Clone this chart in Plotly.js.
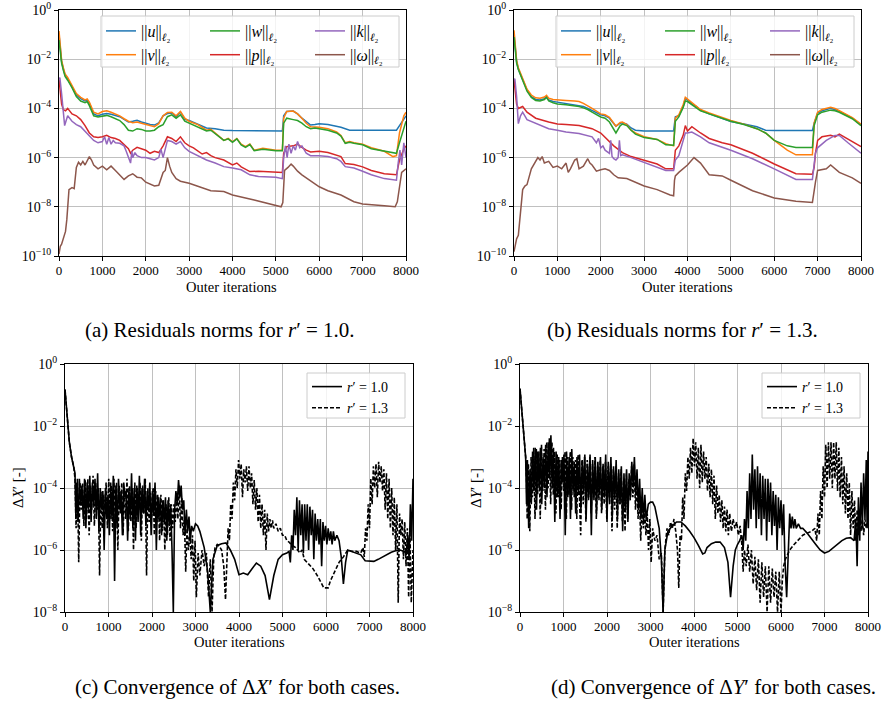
<!DOCTYPE html>
<html><head><meta charset="utf-8">
<script src="https://cdn.plot.ly/plotly-3.0.1.min.js"></script>
<style>html,body{margin:0;padding:0;background:#fff}#chart{width:882px;height:702px}</style>
</head><body><div id="chart"></div><script>
// ---------- tick labels ----------
const X_TICKS = [0,1000,2000,3000,4000,5000,6000,7000,8000];
const X_TICKTEXT = ['0','1000','2000','3000','4000','5000','6000','7000','8000'];
const Y_TICKS_TOP = [1e-10,1e-8,1e-6,1e-4,1e-2,1];
const Y_TICKTEXT_TOP = ['10<sup>−10</sup>','10<sup>−8</sup>','10<sup>−6</sup>','10<sup>−4</sup>','10<sup>−2</sup>','10<sup>0</sup>'];
const Y_TICKS_BOT = [1e-8,1e-6,1e-4,1e-2,1];
const Y_TICKTEXT_BOT = ['10<sup>−8</sup>','10<sup>−6</sup>','10<sup>−4</sup>','10<sup>−2</sup>','10<sup>0</sup>'];

const RES_NAMES = ['||<i>u</i>||<sub><i>ℓ</i>₂</sub>','||<i>v</i>||<sub><i>ℓ</i>₂</sub>','||<i>w</i>||<sub><i>ℓ</i>₂</sub>','||<i>p</i>||<sub><i>ℓ</i>₂</sub>','||<i>k</i>||<sub><i>ℓ</i>₂</sub>','||<i>ω</i>||<sub><i>ℓ</i>₂</sub>'];
const CASE_NAMES = ['<i>r</i>′ = 1.0','<i>r</i>′ = 1.3'];

// ---------- (a) residuals r'=1.0 ----------
const a_u_x = [0,30,60,100,140,200,300,400,500,600,650,700,800,900,1000,1100,1200,1300,1400,1500,1600,1700,1800,1900,2000,2100,2200,2300,2400,2500,2600,2700,2800,2900,3000,3200,3400,3600,3800,4000,4500,5000,5150,5180,5250,5400,5500,5600,5700,5800,5900,6000,6200,6400,6500,6700,7000,7500,7780,7850,7950,8000];
const a_u_y = [1e-1,2e-2,8e-3,4e-3,2.3e-3,1.6e-3,8e-4,3.5e-4,2.5e-4,2e-4,2.2e-4,1.6e-4,6e-5,5e-5,5.8e-5,6.2e-5,5.8e-5,5e-5,4.6e-5,3.6e-5,2.8e-5,3e-5,3.3e-5,2.8e-5,2.4e-5,2.2e-5,2.1e-5,2.6e-5,5e-5,6.2e-5,6.5e-5,4.6e-5,7.2e-5,3.6e-5,3.2e-5,2.3e-5,1.6e-5,1.5e-5,1.3e-5,1.25e-5,1.2e-5,1.2e-5,1.2e-5,5e-5,7.5e-5,7.8e-5,6e-5,4e-5,2.8e-5,2.1e-5,2.2e-5,2.4e-5,2.2e-5,1.9e-5,1.7e-5,1.3e-5,1.3e-5,1.3e-5,1.3e-5,2e-5,3.8e-5,5e-5];
const a_vw_x = [0,30,60,100,140,200,300,400,500,600,650,700,800,900,1000,1100,1200,1300,1400,1500,1600,1700,1800,1900,2000,2100,2200,2300,2400,2500,2600,2700,2800,2900,3000,3200,3400,3500,3600,3700,3800,3900,4000,4100,4200,4300,4400,4500,4700,5000,5150,5180,5250,5400,5500,5600,5700,5800,5900,6000,6200,6400,6500,6600,6700,6800,7000,7200,7500,7700,7780,7850,7950,8000];
const a_v_y = [1.4e-1,2.5e-2,9e-3,4.5e-3,2.5e-3,1.8e-3,9e-4,4e-4,2.8e-4,2.2e-4,2.4e-4,1.8e-4,7e-5,6e-5,7.5e-5,8e-5,7e-5,6e-5,5e-5,3.8e-5,3e-5,2.6e-5,2.8e-5,2.5e-5,2.2e-5,2e-5,1.8e-5,2.4e-5,5e-5,6.8e-5,7e-5,5e-5,7.5e-5,4e-5,3e-5,2.2e-5,1.3e-5,1.4e-5,1e-5,7e-6,5e-6,6e-6,4.4e-6,6e-6,3.5e-6,2.8e-6,3.6e-6,2e-6,2.4e-6,2e-6,2e-6,4e-5,7.5e-5,7.8e-5,6e-5,4e-5,2.5e-5,1.8e-5,1.8e-5,1.7e-5,1.5e-5,1.1e-5,8e-6,4e-6,4.5e-6,4e-6,3.5e-6,2.5e-6,1.8e-6,1.1e-6,1.2e-6,1e-5,5e-5,7e-5];
const a_w_y = [6e-2,1.5e-2,7e-3,3.5e-3,2e-3,1.4e-3,7e-4,3e-4,2e-4,1.7e-4,1.9e-4,1.3e-4,5e-5,4.5e-5,5e-5,5.2e-5,4.6e-5,3.8e-5,3.2e-5,2.2e-5,1.3e-5,1.2e-5,1.5e-5,1.4e-5,1.2e-5,1.2e-5,1.3e-5,1.8e-5,2.2e-5,4.6e-5,5.5e-5,4e-5,5.5e-5,3e-5,2.5e-5,1.8e-5,1.2e-5,1.3e-5,9.5e-6,6.5e-6,5e-6,5.8e-6,4.2e-6,5.8e-6,3.3e-6,2.6e-6,3.4e-6,1.9e-6,2.2e-6,1.9e-6,1.9e-6,2.5e-5,4e-5,3.5e-5,3.2e-5,2.5e-5,1.8e-5,1.5e-5,1.6e-5,1.5e-5,1.3e-5,1e-5,7.5e-6,3.8e-6,4.2e-6,3.8e-6,3.3e-6,2.3e-6,1.8e-6,1.5e-6,1.5e-6,4e-6,1.5e-5,3e-5];
const a_p_x = [0,30,60,100,150,200,300,400,500,600,700,800,900,1000,1100,1200,1300,1400,1500,1600,1650,1700,1800,1900,2000,2100,2200,2300,2400,2500,2600,2700,2800,2900,3000,3100,3200,3300,3400,3500,3600,3800,4000,4100,4200,4300,4400,4600,5000,5150,5180,5250,5400,5500,5600,5700,5800,6000,6200,6400,6500,6600,6800,7000,7200,7500,7780,7850,7950,8000];
const a_p_y = [1.5e-3,4e-4,1.5e-4,9e-5,8e-5,1e-4,6e-5,5e-5,3.5e-5,2e-5,1e-5,7e-6,6.5e-6,7e-6,8e-6,6.5e-6,6e-6,5e-6,3.5e-6,2.3e-6,1.5e-6,2e-6,2.6e-6,2.2e-6,2e-6,1.5e-6,1.8e-6,1.6e-6,3e-6,7e-6,6e-6,4.5e-6,7e-6,4e-6,3e-6,2.5e-6,1.8e-6,1.4e-6,1.6e-6,1.2e-6,1e-6,8e-7,5e-7,6e-7,4.2e-7,3.5e-7,2.7e-7,2.8e-7,2.6e-7,2.5e-7,1.5e-6,2.8e-6,3e-6,3.5e-6,2.6e-6,2e-6,1.7e-6,1.8e-6,1.6e-6,1.3e-6,1.1e-6,5.7e-7,5.2e-7,4.2e-7,3e-7,2.2e-7,2e-7,8e-7,2.2e-6,3e-6];
const a_k_x = [0,20,60,100,130,160,200,300,400,500,600,700,800,900,1000,1050,1100,1150,1200,1250,1300,1400,1500,1550,1600,1650,1680,1700,1750,1800,1900,2000,2100,2200,2300,2350,2400,2450,2500,2600,2700,2800,2900,3000,3200,3400,3600,3800,4000,4200,4400,4600,5000,5150,5180,5220,5260,5300,5350,5400,5450,5500,5550,5600,5700,5800,6000,6200,6400,6500,6600,6800,7000,7200,7500,7780,7820,7860,7900,7950,8000];
const a_k_y = [1.5e-3,1.8e-3,4e-4,8e-5,2e-5,3e-5,5e-5,3e-5,2.2e-5,1.8e-5,1.2e-5,8e-6,5e-6,4e-6,4.5e-6,7e-6,3.5e-6,6.5e-6,3.5e-6,5e-6,4e-6,3.8e-6,3e-6,1.8e-6,1e-6,6e-7,1.8e-6,1e-6,1.6e-6,1.2e-6,1e-6,1e-6,9e-7,8e-7,1e-6,2.2e-6,1e-6,2.5e-6,5e-6,4.5e-6,3.5e-6,4.5e-6,2.5e-6,1.8e-6,1.2e-6,8e-7,6e-7,4.3e-7,3.8e-7,3.2e-7,2e-7,1.7e-7,1.6e-7,1.4e-7,1e-6,3e-6,1e-6,3.5e-6,1.5e-6,3e-6,2e-6,4.5e-6,2.5e-6,3e-6,1.5e-6,1.2e-6,1.2e-6,1.1e-6,9e-7,7e-7,4.3e-7,3.8e-7,2.8e-7,2e-7,1.4e-7,1.2e-7,6e-7,2e-6,5e-7,4e-6,1e-6];
const a_om_x = [0,30,60,100,150,180,200,230,300,350,400,450,500,550,600,650,700,750,800,900,1000,1100,1200,1300,1400,1500,1600,1700,1800,1900,2000,2100,2200,2300,2400,2450,2500,2550,2600,2700,2800,3000,3200,3500,3800,4000,4500,5000,5120,5160,5200,5280,5350,5400,5500,5600,5800,6000,6200,6500,6800,7000,7500,7750,7800,7850,7900,8000];
const a_om_y = [1.2e-10,2.5e-10,3e-10,5e-10,1e-9,3e-9,1.5e-8,5e-8,6e-8,5.5e-8,4e-7,6.5e-7,5e-7,7e-7,5e-7,8e-7,1.1e-6,8e-7,5e-7,3.5e-7,4.5e-7,3.2e-7,4.5e-7,3e-7,2e-7,1.3e-7,1.8e-7,2.2e-7,1.6e-7,1.5e-7,1e-7,8.5e-8,7e-8,7.5e-8,2.5e-7,3e-7,1e-6,4.5e-7,2.5e-7,1.4e-7,1.1e-7,9e-8,7e-8,4.5e-8,4.2e-8,3e-8,1.9e-8,1.1e-8,1e-8,1.5e-8,3e-7,4e-7,5.5e-7,4.5e-7,2.8e-7,2e-7,1.1e-7,6.5e-8,4.5e-8,3e-8,1.6e-8,1.3e-8,1.1e-8,1e-8,1.6e-8,6e-8,2.5e-7,3.5e-7];

// ---------- (b) residuals r'=1.3 ----------
const b_u_x = [0,30,60,100,150,200,300,400,500,600,700,750,800,900,1000,1200,1400,1500,1600,1700,1800,2000,2100,2200,2350,2450,2500,2600,2700,2800,3000,3300,3600,3680,3720,3800,3900,3950,4000,4100,4200,4300,4500,4800,5000,5300,5600,5800,6000,6500,6880,6920,7000,7100,7300,7400,7500,7800,8000];
const b_u_y = [1.1e-1,2e-2,8e-3,4e-3,2.3e-3,1.5e-3,5.6e-4,3e-4,2.3e-4,2.2e-4,2.5e-4,3e-4,2.2e-4,1.9e-4,1.8e-4,1.6e-4,1.4e-4,1.3e-4,1.2e-4,1e-4,8e-5,5.5e-5,5e-5,4e-5,1.9e-5,2.5e-5,2.6e-5,2.3e-5,1.6e-5,1.3e-5,1.2e-5,1.2e-5,1.2e-5,1.2e-5,4.5e-5,5e-5,1.2e-4,2.5e-4,2.2e-4,1.5e-4,1.2e-4,8.5e-5,6e-5,4e-5,2.9e-5,2.3e-5,1.8e-5,1.3e-5,1.25e-5,1.25e-5,1.25e-5,2.5e-5,6.5e-5,8e-5,1e-4,9e-5,7.5e-5,4e-5,2.2e-5];
const b_vw_x = [0,30,60,100,150,200,300,400,500,600,700,750,800,900,1000,1200,1400,1500,1600,1700,1800,2000,2100,2200,2350,2450,2500,2600,2700,2800,3000,3300,3500,3680,3720,3800,3900,3950,4000,4100,4200,4300,4500,4800,5000,5300,5600,5800,6000,6300,6500,6880,6920,7000,7100,7300,7400,7500,7800,8000];
const b_v_y = [1.5e-1,2.5e-2,9e-3,4.5e-3,2.6e-3,1.7e-3,6e-4,3.5e-4,2.7e-4,2.6e-4,2.9e-4,3.4e-4,2.6e-4,2.3e-4,2.2e-4,2.1e-4,2e-4,1.9e-4,1.6e-4,1.3e-4,1e-4,6e-5,5.5e-5,4.3e-5,1.9e-5,2.7e-5,2.8e-5,2.2e-5,1.3e-5,1e-5,7e-6,5.5e-6,3.7e-6,3e-6,4e-5,5.5e-5,1.4e-4,2.8e-4,2.4e-4,1.7e-4,1.3e-4,9e-5,6.5e-5,4.2e-5,3.2e-5,2.3e-5,1.5e-5,1e-5,5e-6,2e-6,1.3e-6,1.3e-6,2.5e-5,7e-5,9e-5,1.1e-4,1e-4,8e-5,4.2e-5,2.3e-5];
const b_w_y = [8e-2,1.8e-2,7e-3,3.8e-3,2.2e-3,1.4e-3,5e-4,2.8e-4,2.1e-4,2e-4,2.3e-4,2.8e-4,2e-4,1.7e-4,1.5e-4,1.4e-4,1.3e-4,1.2e-4,1.05e-4,9e-5,7e-5,4.5e-5,4e-5,2.8e-5,1e-5,2e-5,2.3e-5,2e-5,1.3e-5,9e-6,6.5e-6,5.5e-6,3.3e-6,3.2e-6,3e-5,4.5e-5,1.1e-4,2e-4,1.9e-4,1.4e-4,1.1e-4,8e-5,6e-5,4e-5,3e-5,2.2e-5,1.5e-5,1e-5,5e-6,3e-6,2.6e-6,2.6e-6,2e-5,5.5e-5,7e-5,8.5e-5,8e-5,7e-5,3.8e-5,2e-5];
const b_p_x = [0,30,60,100,200,300,500,800,1000,1200,1500,1800,2000,2300,2500,2700,3000,3300,3500,3680,3720,3800,3900,3950,4000,4100,4300,4500,4800,5000,5500,6000,6500,6880,6920,6950,7000,7100,7300,7400,7500,7700,8000];
const b_p_y = [1.5e-3,4e-4,1.5e-4,1e-4,1.2e-4,7e-5,4e-5,2.8e-5,2.3e-5,2.2e-5,2e-5,1.5e-5,1e-5,3e-6,1.6e-6,1.1e-6,8e-7,5.5e-7,3.5e-7,3.5e-7,2e-6,3e-6,8e-6,2e-5,1.2e-5,1.8e-5,1e-5,6e-6,4e-6,3.3e-6,1.5e-6,5.5e-7,2.2e-7,2.1e-7,4e-7,1.5e-6,5e-6,7e-6,8e-6,7e-6,9e-6,5.5e-6,2.8e-6];
const b_k_x = [0,20,60,100,150,200,300,500,800,1000,1200,1500,1800,1900,1950,2000,2050,2100,2200,2230,2260,2300,2350,2400,2430,2460,2500,2700,3000,3300,3500,3680,3720,3800,3900,3950,4000,4100,4300,4500,5000,5500,6000,6500,6880,6920,6950,7000,7200,7400,7500,7700,8000];
const b_k_y = [1.5e-3,1.6e-3,3e-4,2.4e-5,5e-5,7e-5,3.5e-5,2.5e-5,1.5e-5,1.3e-5,1.1e-5,9.5e-6,7e-6,4e-6,6e-6,2.5e-6,3e-6,2e-6,1.5e-6,5e-6,1.1e-6,9e-7,8e-7,1e-6,5e-6,1.2e-6,1.3e-6,1e-6,6.5e-7,4e-7,3e-7,3e-7,8e-7,1.2e-6,5e-6,1e-5,1e-5,1.1e-5,7e-6,4e-6,2e-6,9e-7,3.5e-7,1.3e-7,1.3e-7,5e-7,1.5e-6,2.5e-6,5e-6,8e-6,8e-6,4e-6,1.5e-6];
const b_om_x = [0,30,60,100,150,200,250,300,400,500,550,600,650,700,800,900,1000,1100,1200,1250,1300,1400,1450,1500,1600,1700,1750,1800,1900,2000,2100,2200,2300,2400,2600,3000,3300,3600,3680,3700,3720,3800,4000,4150,4300,4500,4800,5000,5500,6000,6500,6880,6920,6950,7000,7200,7300,7500,7800,8000];
const b_om_y = [1.5e-10,3e-10,5e-10,7e-10,5e-9,5e-8,7e-8,8e-8,3.5e-7,7e-7,1e-6,8e-7,1.1e-6,6e-7,7e-7,4e-7,4.5e-7,3.5e-7,6e-7,2.5e-7,3.5e-7,8e-7,9e-7,3.5e-7,4.5e-7,9e-7,6e-7,5e-7,2.8e-7,3.2e-7,3.5e-7,3e-7,2e-7,1.5e-7,1.4e-7,7e-8,5e-8,3e-8,2.8e-8,1.2e-7,1.8e-7,2.5e-7,5e-7,1e-6,6e-7,2e-7,1.8e-7,1.2e-7,4.5e-8,2.3e-8,1.7e-8,1.5e-8,5e-8,1e-7,3e-7,3.5e-7,5e-7,2.5e-7,1.5e-7,9e-8];

// ---------- (c) Delta X' ----------
const c_s_x = [0,20,50,100,150,200,230,250,270,300,330,360,390,420,450,480,510,540,570,600,630,660,690,720,750,780,810,840,870,900,930,960,990,1020,1050,1080,1110,1140,1170,1200,1230,1260,1290,1320,1350,1380,1410,1440,1470,1500,1530,1560,1590,1620,1650,1680,1710,1740,1770,1800,1830,1860,1890,1920,1950,1980,2010,2040,2070,2100,2130,2160,2190,2220,2250,2280,2310,2340,2370,2400,2430,2460,2490,2520,2550,2580,2610,2640,2670,2700,2730,2760,2790,2820,2850,2880,2910,2950,3000,3050,3100,3200,3280,3340,3400,3500,3600,3700,3800,3900,3950,4000,4100,4200,4300,4400,4500,4600,4700,4800,4900,5000,5100,5150,5180,5210,5240,5270,5300,5330,5360,5390,5420,5450,5480,5510,5540,5570,5600,5630,5660,5690,5720,5750,5780,5810,5840,5870,5900,5930,5960,5990,6020,6050,6080,6110,6140,6170,6200,6250,6300,6350,6400,6450,6500,6600,6700,6800,6900,7000,7100,7200,7300,7400,7500,7600,7700,7800,7850,7880,7910,7940,7970,8000];
const c_s_y = [1.5e-1,6e-2,1.5e-2,3e-3,1e-3,5e-4,3e-4,1e-5,1.5e-4,8e-6,2e-4,3e-5,1.2e-4,1e-5,2e-4,5e-6,1.5e-4,2e-5,2.5e-4,8e-6,1.5e-4,3e-5,2e-4,1e-5,3e-4,4e-6,1e-4,2e-5,8e-5,1e-6,1e-4,1e-5,6e-5,3e-6,1.5e-4,1e-5,2.5e-4,1e-7,1.2e-4,5e-6,2e-4,2e-5,8e-5,3e-6,1.5e-4,5e-5,8e-5,2e-6,1e-4,1e-5,3e-4,5e-6,1e-4,2e-6,1.2e-4,8e-6,2.5e-4,3e-6,1e-4,1.5e-5,2e-4,6e-6,8e-5,2e-5,1.5e-4,3e-6,8e-5,1.5e-5,1.5e-4,1e-6,6e-5,1e-5,5e-5,3e-6,4e-5,8e-6,5e-5,2e-6,4e-5,6e-6,3e-5,1e-6,1e-8,2e-5,8e-5,3e-5,1.8e-4,5e-5,1.2e-4,2e-5,4e-5,3e-6,2e-5,4e-6,1.2e-5,2e-6,6e-6,4e-6,7e-6,6e-6,4e-6,1.2e-6,2e-7,1e-8,5e-7,1.4e-6,1.6e-6,1.7e-6,1e-6,5e-7,2.5e-7,1.6e-7,1.8e-7,1.6e-7,2.5e-7,3.8e-7,3e-7,1.5e-7,2.5e-8,1.5e-7,5e-7,7e-7,8e-7,9e-7,4e-7,3e-6,1e-6,2e-5,3e-6,5e-5,1e-6,4e-5,3e-6,3e-5,8e-7,3e-5,2e-6,3e-5,1e-6,2.5e-5,3e-6,2e-5,5e-7,1.5e-5,2e-6,1e-5,1.5e-6,1e-5,3e-7,8e-6,2e-6,6e-6,1.5e-6,5e-6,2e-6,4e-6,1.5e-6,4e-6,2e-6,3e-6,2e-6,6e-7,8e-8,4e-7,1e-6,9e-7,8e-7,7e-7,4.5e-7,4.3e-7,4.3e-7,5e-7,6e-7,7.5e-7,8.5e-7,9.5e-7,1e-6,9e-7,7e-7,3e-6,5e-7,3e-5,2e-6,2e-4];
const c_d_x = [0,20,50,100,150,200,230,255,285,315,345,375,405,435,465,495,525,555,585,615,645,675,705,735,765,795,825,855,885,915,945,975,1005,1035,1065,1095,1125,1155,1185,1215,1245,1275,1305,1335,1365,1395,1425,1455,1485,1515,1545,1575,1605,1635,1665,1695,1725,1755,1785,1815,1845,1875,1905,1935,1965,1995,2025,2055,2085,2115,2145,2175,2205,2235,2265,2295,2325,2355,2385,2415,2445,2475,2505,2535,2565,2595,2625,2655,2685,2715,2745,2775,2805,2835,2870,2900,2930,2960,2990,3020,3060,3100,3150,3200,3250,3300,3340,3380,3420,3450,3500,3550,3600,3650,3690,3720,3750,3780,3810,3840,3870,3900,3930,3960,3990,4020,4050,4080,4110,4140,4170,4200,4230,4260,4290,4320,4350,4380,4410,4440,4470,4500,4530,4560,4590,4620,4650,4680,4710,4740,4770,4800,4850,4900,4950,5000,5050,5100,5150,5200,5300,5400,5450,5500,5600,5700,5800,5900,5950,6050,6100,6200,6300,6400,6450,6500,6600,6700,6800,6850,6880,6910,6940,6970,7000,7030,7060,7090,7120,7150,7180,7210,7240,7270,7300,7330,7360,7390,7420,7450,7480,7510,7540,7570,7600,7630,7660,7690,7720,7750,7780,7810,7840,7870,7900,7930,7960,8000];
const c_d_y = [1.5e-1,6e-2,1.5e-2,3e-3,1e-3,5e-4,2e-4,5e-6,2e-4,4e-7,1.5e-4,2e-5,1.5e-4,6e-6,1.8e-4,1e-5,2e-4,3e-6,1.2e-4,2e-5,2.5e-4,6e-6,1.5e-4,2e-5,1e-4,1.5e-7,8e-5,5e-6,6e-5,2e-5,1.5e-4,5e-6,2e-4,1e-5,1.2e-4,4e-6,2e-4,8e-6,1.5e-4,1e-6,1.2e-4,1.5e-5,1.5e-4,3e-6,1e-4,1e-5,2e-4,4e-6,1.2e-4,8e-6,1e-4,1e-6,1.5e-4,5e-6,1e-4,2e-5,1.5e-4,2e-6,1.2e-4,1.5e-5,2e-4,1.5e-7,1e-4,8e-6,7e-5,1.2e-5,1e-4,3e-6,8e-5,8e-6,5e-5,2e-6,6e-5,4e-6,4e-5,1e-6,3e-5,3e-6,5e-5,2e-6,3e-5,5e-6,3e-5,8e-6,6e-5,1e-5,1.2e-4,5e-6,5e-5,3e-6,1e-5,2e-7,5e-6,1e-6,4e-6,5e-7,3e-6,1e-7,2e-6,3e-8,8e-7,1.5e-7,1e-6,3e-7,8e-7,3e-8,5e-7,1e-8,6e-7,1.2e-6,1.5e-6,1.3e-6,1e-6,3e-7,2.5e-8,5e-7,5e-6,2e-6,3e-5,1e-5,1.5e-4,4e-5,4e-4,1e-4,8e-4,2e-4,6e-4,5e-5,4e-4,1.5e-4,5e-4,8e-5,5e-4,1e-4,3e-4,3e-5,1.8e-4,2e-5,1e-4,8e-6,6e-5,5e-6,3e-5,3e-6,2e-5,1e-6,1.5e-5,4e-6,1e-5,5e-6,9e-6,5e-6,7e-6,4e-6,5e-6,3e-6,3e-6,2e-6,1.8e-6,1.5e-6,1.2e-6,8e-7,1e-6,5e-7,3.5e-7,2.5e-7,1.5e-7,8e-8,6e-8,6e-8,1e-7,2e-7,4e-7,6e-7,8e-7,1e-6,9e-7,9e-7,8e-7,1.2e-6,6e-7,5e-6,2e-6,3e-5,5e-6,2e-4,3e-5,5e-4,1e-4,6e-4,5e-5,7e-4,1.5e-4,5e-4,8e-5,4e-4,2e-5,3e-4,1e-5,2e-4,5e-6,1e-4,3e-6,5e-5,1e-6,3e-5,2e-8,1.5e-5,3e-6,1e-5,5e-7,8e-6,3e-7,5e-6,3e-8,4e-6,2e-8,1e-6];

// ---------- (d) Delta Y' ----------
const d_s_x = [0,20,50,100,130,150,170,200,230,260,290,320,350,380,410,440,470,500,530,560,590,620,650,680,710,740,770,800,830,860,890,920,950,980,1010,1040,1070,1100,1130,1160,1190,1220,1250,1280,1310,1340,1370,1400,1430,1460,1490,1520,1550,1580,1610,1640,1670,1700,1730,1760,1790,1820,1850,1880,1910,1940,1970,2000,2030,2060,2090,2120,2150,2180,2210,2240,2270,2300,2330,2360,2390,2420,2450,2480,2510,2540,2570,2600,2630,2660,2690,2720,2750,2780,2810,2840,2870,2900,2950,3000,3050,3100,3150,3200,3250,3290,3330,3400,3500,3600,3700,3800,3900,4000,4100,4200,4250,4300,4400,4500,4600,4700,4780,4840,4900,4950,5000,5050,5100,5130,5160,5190,5220,5250,5280,5310,5340,5370,5400,5430,5460,5490,5520,5550,5580,5610,5640,5670,5700,5730,5760,5790,5820,5850,5880,5910,5940,5970,6000,6030,6060,6090,6130,6170,6200,6230,6260,6290,6320,6350,6400,6450,6500,6600,6700,6800,6900,7000,7100,7200,7300,7400,7500,7600,7680,7720,7750,7780,7810,7840,7870,7900,7930,7960,7980,8000];
const d_s_y = [1.6e-1,8e-2,2e-2,3e-3,1e-3,3e-5,8e-4,5e-6,4e-4,3e-5,1.5e-3,8e-5,2e-3,2e-5,1.5e-3,1e-4,2e-3,3e-5,1e-3,1e-4,2.5e-3,5e-5,3e-3,2e-4,5e-3,1e-4,2e-3,8e-6,1.5e-3,5e-5,1e-3,1e-5,8e-4,1.5e-4,1.2e-3,3e-6,1.5e-3,5e-5,1e-3,1e-5,1.8e-3,8e-5,7e-4,1.5e-5,1e-3,6e-5,1.2e-3,2e-5,8e-4,8e-5,1.2e-3,1e-5,6e-4,5e-5,1.2e-3,3e-6,8e-4,4e-5,1e-3,1.5e-5,7e-4,6e-5,1e-3,2e-5,6e-4,5e-5,1.2e-3,8e-6,7e-4,3e-5,1e-3,1e-5,5e-4,5e-5,8e-4,1e-5,4e-4,3e-5,5e-4,4e-6,3e-4,2e-5,4e-4,8e-6,3e-4,5e-5,7e-4,1.2e-4,1e-3,6e-5,4e-4,2e-5,2e-4,1e-5,1e-4,8e-6,6e-5,1e-5,3e-5,3.5e-5,3.5e-5,2.5e-5,1.2e-5,5e-6,5e-7,1e-8,1e-6,4e-6,6e-6,8e-6,8e-6,6e-6,4e-6,2.5e-6,1.4e-6,7.5e-7,8e-7,1.2e-6,1.6e-6,1.8e-6,1.8e-6,1.2e-6,4e-7,3e-8,3e-7,1e-6,1.5e-6,2e-6,3e-6,1e-6,1e-5,2e-6,8e-5,5e-6,3e-4,1e-5,1.2e-3,2e-5,4e-4,5e-6,5e-4,1e-5,3e-4,3e-6,2.5e-4,1e-5,2e-4,2e-6,2e-4,8e-6,1.5e-4,3e-6,8e-5,6e-6,6e-5,1e-6,5e-5,5e-6,4e-5,3e-6,3e-5,5e-7,3e-8,1e-6,1.5e-5,5e-6,1.2e-5,5e-6,1e-5,5e-6,7e-6,5e-6,5e-6,3.5e-6,2.2e-6,1.5e-6,1e-6,8e-7,9e-7,1.2e-6,1.6e-6,2e-6,2.4e-6,2.5e-6,2e-6,1e-5,3e-7,5e-5,2e-6,1.5e-4,5e-6,3e-4,1e-5,8e-4,5e-6,1.5e-3];
const d_d_x = [0,20,50,100,130,150,165,195,225,255,285,315,345,375,405,435,465,495,525,555,585,615,645,675,705,735,765,795,825,855,885,915,945,975,1005,1035,1065,1095,1125,1155,1185,1215,1245,1275,1305,1335,1365,1395,1425,1455,1485,1515,1545,1575,1605,1635,1665,1695,1725,1755,1785,1815,1845,1875,1905,1935,1965,1995,2025,2055,2085,2115,2145,2175,2205,2235,2265,2295,2325,2355,2385,2415,2445,2475,2505,2535,2565,2595,2625,2655,2685,2715,2745,2775,2805,2835,2865,2895,2925,2955,2985,3015,3050,3100,3150,3200,3250,3290,3330,3380,3420,3460,3500,3540,3580,3620,3650,3680,3710,3740,3770,3800,3830,3860,3890,3920,3950,3980,4010,4040,4070,4100,4130,4160,4190,4220,4250,4280,4310,4340,4370,4400,4430,4460,4490,4520,4550,4580,4610,4640,4670,4700,4730,4760,4790,4820,4860,4900,4940,4980,5020,5060,5100,5130,5160,5200,5240,5280,5320,5360,5400,5440,5480,5520,5560,5600,5640,5680,5720,5760,5800,5840,5880,5920,5960,6000,6030,6060,6100,6200,6300,6400,6500,6600,6700,6780,6820,6850,6880,6910,6940,6970,7000,7030,7060,7090,7120,7150,7180,7210,7240,7270,7300,7330,7360,7390,7420,7450,7480,7510,7540,7570,7600,7630,7660,7690,7720,7750,7780,7810,7840,7870,7900,7930,7960,8000];
const d_d_y = [1.6e-1,8e-2,2e-2,3e-3,1e-3,2e-4,1e-5,6e-4,4e-6,1e-3,5e-5,2e-3,1e-5,1.8e-3,6e-5,1.5e-3,1e-5,2.5e-3,8e-5,1.8e-3,2e-5,3e-3,1e-4,4e-3,3e-5,3e-3,6e-5,1.5e-3,1.5e-5,1.2e-3,5e-5,8e-4,2e-5,1e-3,8e-5,1.5e-3,1e-5,1e-3,6e-5,1.5e-3,2e-5,1e-3,5e-5,8e-4,1e-5,1.2e-3,4e-5,3e-6,8e-4,3e-5,1e-3,8e-6,8e-4,4e-5,1e-3,1.5e-5,6e-4,5e-5,1e-3,1e-5,5e-4,4e-5,8e-4,1.5e-5,5e-4,3e-5,7e-4,1e-5,5e-4,5e-5,6e-4,4e-6,4e-4,2e-5,5e-4,5e-6,3e-4,3e-5,4e-4,8e-6,2e-4,4e-6,3e-4,1e-5,2e-4,4e-5,5e-4,5e-5,6e-4,2e-5,2e-4,1e-5,6e-5,2e-6,3e-5,5e-6,2e-5,3e-6,1.5e-5,1e-6,1e-5,4e-7,5e-6,2e-6,3e-6,5e-7,8e-7,1e-8,1e-6,5e-6,3e-6,8e-6,5e-6,1e-5,4e-6,1e-6,6e-8,3e-6,2e-6,5e-5,1e-5,3e-4,8e-5,1e-3,2e-4,2e-3,3e-4,4e-3,5e-4,3e-3,2e-4,2e-3,1e-4,2.5e-3,1.5e-4,1.5e-3,2e-4,1e-3,8e-5,6e-4,5e-5,4e-4,3e-5,2.5e-4,1e-5,1.2e-4,1.5e-5,6e-5,8e-6,4e-5,5e-6,2.5e-5,4e-6,2e-5,3e-6,1.5e-5,4e-6,1e-5,5e-6,8e-6,3e-6,6e-6,1.5e-6,2e-7,1e-6,3e-7,1.5e-6,2e-7,1e-6,8e-8,6e-7,5e-8,5e-7,2e-8,4e-7,3e-8,3e-7,1e-8,3e-7,2e-8,2.5e-7,3e-8,2e-7,1e-8,2e-7,1e-8,1e-7,3e-7,5e-7,1e-6,1.5e-6,2.2e-6,3e-6,3.5e-6,4e-6,5e-6,2e-6,1.5e-5,3e-6,8e-5,1e-5,5e-4,5e-5,2.5e-3,1e-4,3e-3,2e-4,3e-3,1e-4,3e-3,2e-4,3e-3,8e-5,2e-3,5e-5,1e-3,3e-5,5e-4,1.5e-5,3e-4,1e-5,1.5e-4,3e-6,8e-5,5e-6,4e-5,2e-6,2e-5,3e-6,1.5e-5,4e-6,1e-5,3e-6,1e-5,5e-6,1e-5];

// ---------- styling ----------
const COLORS = ['#1f77b4','#ff7f0e','#2ca02c','#d62728','#9467bd','#8c564b'];
const W = 882, H = 702;
const px = v => v / W, py = v => 1 - v / H;
const SERIF = 'Liberation Serif, Times New Roman, serif';

const traces = [];
function resTraces(xa, ya, leg, sets) {
  sets.forEach((s, i) => {
    traces.push({x: s[0], y: s[1], type: 'scatter', mode: 'lines', name: RES_NAMES[i],
      line: {color: COLORS[i], width: 1.5}, xaxis: xa, yaxis: ya, legend: leg[Math.floor(i/2)], hoverinfo: 'skip'});
  });
}
// legend columns: (u,v), (w,p), (k,omega)
resTraces('x', 'y', ['legend','legend2','legend3'], [[a_u_x,a_u_y],[a_vw_x,a_v_y],[a_vw_x,a_w_y],[a_p_x,a_p_y],[a_k_x,a_k_y],[a_om_x,a_om_y]]);
resTraces('x2', 'y2', ['legend4','legend5','legend6'], [[b_u_x,b_u_y],[b_vw_x,b_v_y],[b_vw_x,b_w_y],[b_p_x,b_p_y],[b_k_x,b_k_y],[b_om_x,b_om_y]]);
function convTraces(xa, ya, leg, s, d) {
  traces.push({x: s[0], y: s[1], type: 'scatter', mode: 'lines', name: CASE_NAMES[0],
    line: {color: '#000', width: 1.6}, xaxis: xa, yaxis: ya, legend: leg, hoverinfo: 'skip'});
  traces.push({x: d[0], y: d[1], type: 'scatter', mode: 'lines', name: CASE_NAMES[1],
    line: {color: '#000', width: 1.6, dash: '4px,2px'}, xaxis: xa, yaxis: ya, legend: leg, hoverinfo: 'skip'});
}
convTraces('x3', 'y3', 'legend7', [c_s_x,c_s_y], [c_d_x,c_d_y]);
convTraces('x4', 'y4', 'legend8', [d_s_x,d_s_y], [d_d_x,d_d_y]);

const tickFont = {family: SERIF, size: 13, color: '#000'};
function xax(x0, x1, anchor) {
  return {domain: [px(x0), px(x1)], anchor: anchor, range: [0, 8000], tickvals: X_TICKS, ticktext: X_TICKTEXT,
    ticks: 'outside', ticklen: 4, tickcolor: '#000', showgrid: true, gridcolor: '#b0b0b0', gridwidth: 0.8,
    showline: true, mirror: true, linecolor: '#000', linewidth: 1, zeroline: false, tickfont: tickFont,
    ticklabelstandoff: -2};
}
function yax(y0, y1, anchor, lo, vals, text) {
  return {domain: [py(y1), py(y0)], anchor: anchor, type: 'log', range: [lo, 0], tickvals: vals, ticktext: text,
    ticks: 'outside', ticklen: 4, tickcolor: '#000', showgrid: true, gridcolor: '#b0b0b0', gridwidth: 0.8,
    showline: true, mirror: true, linecolor: '#000', linewidth: 1, zeroline: false, tickfont: {family: SERIF, size: 14, color: '#000'}};
}
function leg(x, y, size) {
  return {x: px(x), y: py(y), xanchor: 'left', yanchor: 'top', bgcolor: 'rgba(0,0,0,0)', borderwidth: 0,
    font: {family: SERIF, size: size, color: '#000'}, tracegroupgap: 0, itemwidth: 30};
}
function box(x0, x1, y0, y1) {
  return {type: 'rect', xref: 'paper', yref: 'paper', x0: px(x0), x1: px(x1), y0: py(y1), y1: py(y0),
    fillcolor: 'rgba(255,255,255,0.8)', line: {color: '#cccccc', width: 1}, layer: 'above'};
}
function ann(text, x, y, size, angle) {
  return {text: text, x: px(x), y: py(y), xref: 'paper', yref: 'paper', showarrow: false,
    xanchor: 'center', yanchor: 'middle', textangle: angle || 0, font: {family: SERIF, size: size, color: '#000'}};
}

const layout = {
  width: W, height: H, margin: {l: 0, r: 0, t: 0, b: 0}, paper_bgcolor: '#fff', plot_bgcolor: '#fff',
  xaxis: xax(59, 406, 'y'), yaxis: yax(10, 256, 'x', -10, Y_TICKS_TOP, Y_TICKTEXT_TOP),
  xaxis2: xax(514, 861, 'y2'), yaxis2: yax(10, 256, 'x2', -10, Y_TICKS_TOP, Y_TICKTEXT_TOP),
  xaxis3: xax(65, 413, 'y3'), yaxis3: yax(364, 612, 'x3', -8, Y_TICKS_BOT, Y_TICKTEXT_BOT),
  xaxis4: xax(520, 868, 'y4'), yaxis4: yax(364, 612, 'x4', -8, Y_TICKS_BOT, Y_TICKTEXT_BOT),
  legend: leg(101, 14, 16), legend2: leg(205, 14, 16), legend3: leg(310, 14, 16),
  legend4: leg(556, 14, 16), legend5: leg(660, 14, 16), legend6: leg(765, 14, 16),
  legend7: leg(307, 371, 14), legend8: leg(762, 371, 14),
  shapes: [box(101, 399, 16, 67), box(556, 854, 16, 67), box(307, 405, 373, 418), box(762, 860, 373, 418)],
  annotations: [
    ann('Outer iterations', 232, 287, 14.5), ann('Outer iterations', 687, 287, 14.5),
    ann('Outer iterations', 239, 642, 14.5), ann('Outer iterations', 694, 642, 14.5),
    ann('Δ<i>X</i>′ [-]', 18, 488, 15, -90), ann('Δ<i>Y</i>′ [-]', 476, 488, 15, -90),
    ann('(a) Residuals norms for <i>r</i>′ = 1.0.', 220, 330, 21),
    ann('(b) Residuals norms for <i>r</i>′ = 1.3.', 682, 330, 21),
    ann('(c) Convergence of Δ<i>X</i>′ for both cases.', 237, 687, 21),
    ann('(d) Convergence of Δ<i>Y</i>′ for both cases.', 713, 687, 21)
  ],
  showlegend: true
};
Plotly.newPlot('chart', traces, layout, {staticPlot: true, displayModeBar: false});
</script></body></html>
